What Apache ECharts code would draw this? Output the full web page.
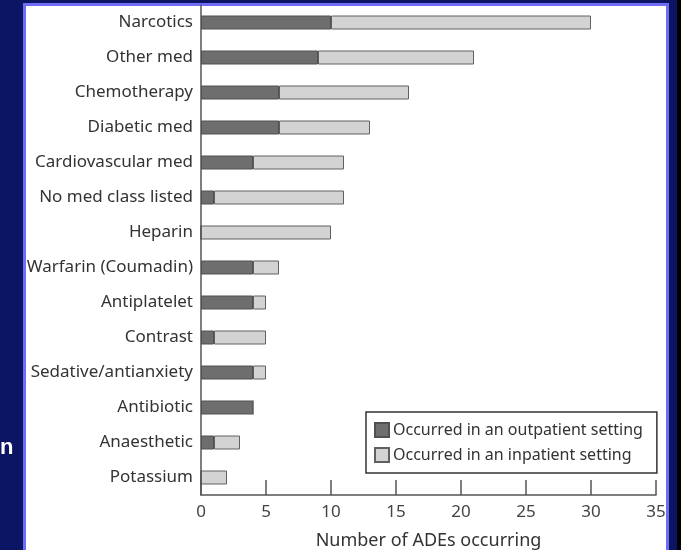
<!DOCTYPE html>
<html>
<head>
<meta charset="utf-8">
<script src="https://cdn.jsdelivr.net/npm/echarts@6/dist/echarts.min.js"></script>
<style>
  html, body { margin: 0; padding: 0; background: #0b1563; }
  #chart { width: 681px; height: 550px; }
</style>
</head>
<body>
<div id="chart"></div>
<script>
var categories = ['Narcotics', 'Other med', 'Chemotherapy', 'Diabetic med', 'Cardiovascular med',
    'No med class listed', 'Heparin', 'Warfarin (Coumadin)', 'Antiplatelet', 'Contrast',
    'Sedative/antianxiety', 'Antibiotic', 'Anaesthetic', 'Potassium'];
var outpatient = [10, 9, 6, 6, 4, 1, 0, 4, 4, 1, 4, 4, 1, 0];
var inpatient = [20, 12, 10, 7, 7, 10, 10, 2, 1, 4, 1, 0, 2, 2];
var xTicks = [0, 5, 10, 15, 20, 25, 30, 35];

var font = '"Noto Sans", Lato, sans-serif';
var chart = echarts.init(document.getElementById('chart'));

chart.setOption({
    backgroundColor: '#0b1563',
    animation: false,
    graphic: [
        // black strip on the right edge
        { type: 'rect', shape: { x: 677, y: 0, width: 4, height: 550 }, style: { fill: '#000' }, z: -10 },
        // white panel with light blue frame
        { type: 'rect', shape: { x: 24.5, y: 4.5, width: 643, height: 560 },
          style: { fill: '#fff', stroke: '#6f6cf5', lineWidth: 3 }, z: -10 },
        // cut-off slide text at left
        { type: 'text', left: 0, top: 437,
          style: { text: 'n', fill: '#fff', font: 'bold 22px "Liberation Sans", Arial, sans-serif' } }
    ],
    grid: { left: 201, right: 25, top: 5, bottom: 55, containLabel: false, outerBoundsMode: 'none' },
    legend: {
        orient: 'vertical',
        left: 366, top: 412,
        padding: [10, 14, 10, 8],
        itemGap: 9,
        itemWidth: 14, itemHeight: 14,
        borderColor: '#333', borderWidth: 1.5,
        backgroundColor: '#fff',
        icon: 'rect',
        textStyle: { fontFamily: font, fontSize: 16, color: '#333', padding: [0, 0, 0, -1] },
        data: ['Occurred in an outpatient setting', 'Occurred in an inpatient setting']
    },
    xAxis: {
        type: 'value',
        min: 0, max: 35, interval: 5,
        name: 'Number of ADEs occurring',
        nameLocation: 'middle',
        nameGap: 37,
        nameTextStyle: { fontFamily: font, fontSize: 18, color: '#333' },
        axisLine: { show: true, lineStyle: { color: '#555', width: 1.5 } },
        axisTick: { show: true, inside: true, length: 15, lineStyle: { color: '#555', width: 1.5 } },
        axisLabel: { fontFamily: font, fontSize: 17, color: '#444', margin: 9,
            formatter: function (v) { return xTicks.indexOf(v) >= 0 ? String(v) : ''; } },
        splitLine: { show: false }
    },
    yAxis: {
        type: 'category',
        inverse: true,
        data: categories,
        axisLine: { show: true, lineStyle: { color: '#555', width: 1.5 } },
        axisTick: { show: false },
        axisLabel: { fontFamily: font, fontSize: 17, color: '#333', margin: 8 }
    },
    series: [
        {
            name: 'Occurred in an outpatient setting',
            type: 'bar', stack: 'ade', barWidth: 14,
            itemStyle: { color: '#6e6e6e', borderColor: '#505050', borderWidth: 1 },
            data: outpatient
        },
        {
            name: 'Occurred in an inpatient setting',
            type: 'bar', stack: 'ade', barWidth: 14,
            itemStyle: { color: '#d3d3d3', borderColor: '#606060', borderWidth: 1 },
            data: inpatient
        }
    ]
});
</script>
</body>
</html>
